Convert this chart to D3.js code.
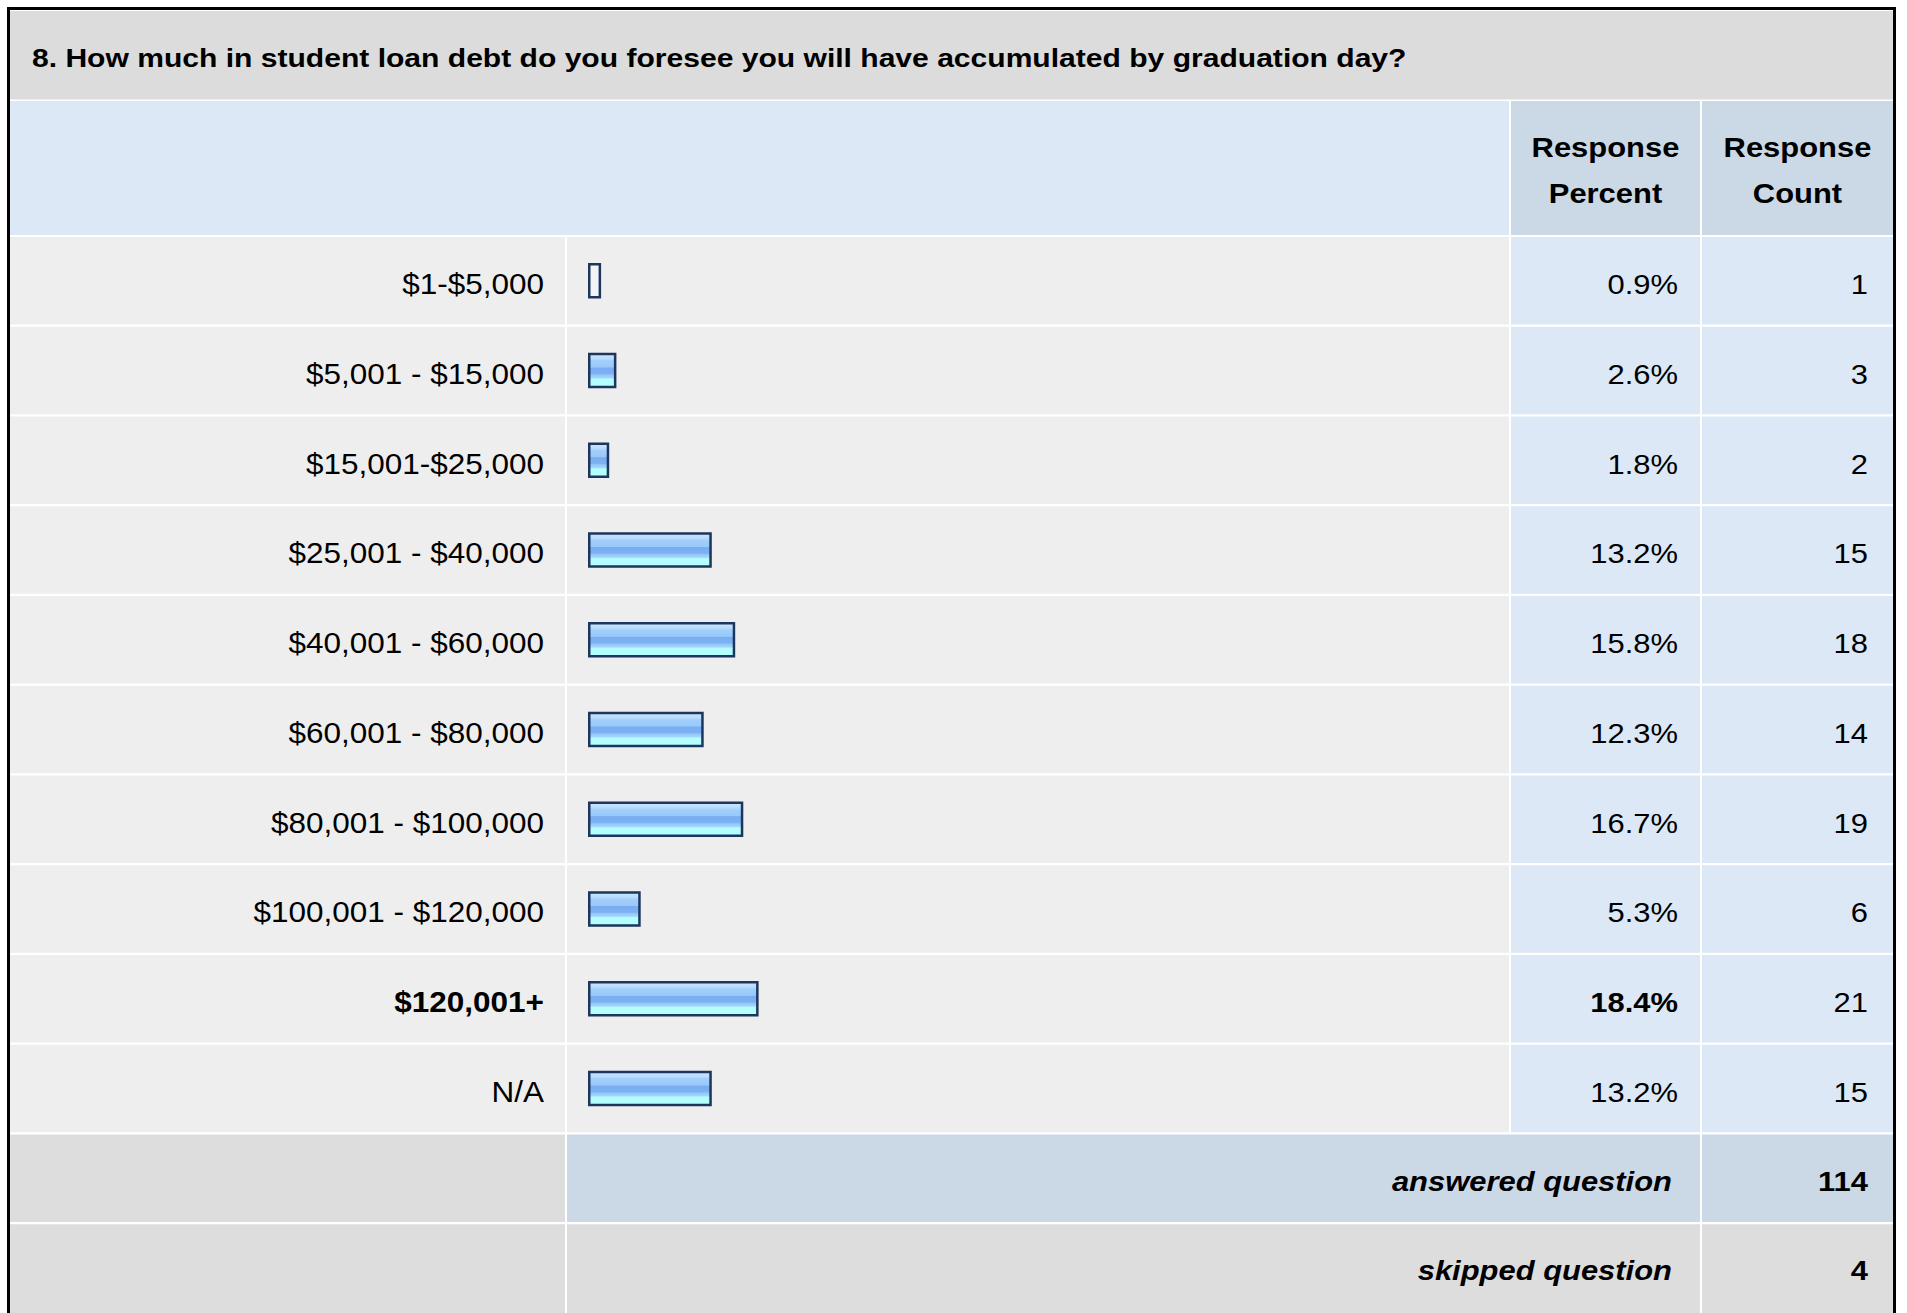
<!DOCTYPE html>
<html>
<head>
<meta charset="utf-8">
<script src="https://cdn.jsdelivr.net/npm/d3@7"></script>
<style>
  body { margin: 0; background: #fff; }
  svg { display: block; font-family: "Liberation Sans", Arial, sans-serif; }
</style>
</head>
<body>
<div id="chart"></div>
<script>
const questionTitle = "8. How much in student loan debt do you foresee you will have accumulated by graduation day?";
const headerLines = [["Response", "Percent"], ["Response", "Count"]];
const categories = ["$1-$5,000", "$5,001 - $15,000", "$15,001-$25,000", "$25,001 - $40,000", "$40,001 - $60,000",
    "$60,001 - $80,000", "$80,001 - $100,000", "$100,001 - $120,000", "$120,001+", "N/A"];
const percents = [0.9, 2.6, 1.8, 13.2, 15.8, 12.3, 16.7, 5.3, 18.4, 13.2];
const counts = [1, 3, 2, 15, 18, 14, 19, 6, 21, 15];
const footerLabels = ["answered question", "skipped question"];
const footerCounts = [114, 4];

const width = 1907, height = 1313;
const SX = 1.085;          // glyphs in the capture are a little wider than tall
const fontSize = 28.5;
const labelSize = 29;
const rowStep = 89.75, gap = 2.2, firstRowTop = 237;
const cols = { label: [10, 565], bar: [567, 1509], pct: [1511, 1700], count: [1702, 1893] };

const topIndex = d3.maxIndex(percents);

const svg = d3.select("#chart").append("svg")
    .attr("width", width)
    .attr("height", height);

const defs = svg.append("defs");
const grad = defs.append("linearGradient")
    .attr("id", "barGrad")
    .attr("x1", 0).attr("y1", 0).attr("x2", 0).attr("y2", 1);
[[0, "#cde6fe"], [0.16, "#b6dafd"], [0.2, "#a2cffc"], [0.4, "#99c8fa"], [0.42, "#78adf2"],
 [0.6, "#7cb1f3"], [0.63, "#93c4f8"], [0.72, "#a4d6fa"], [0.76, "#b3fdff"], [1, "#b3ffff"]]
    .forEach(([o, c]) => grad.append("stop").attr("offset", o).attr("stop-color", c));

// row bands (10 answer rows + 2 footer rows)
const nRows = categories.length + footerLabels.length;
const y = d3.scaleBand()
    .domain(d3.range(nRows))
    .range([firstRowTop, firstRowTop + nRows * rowStep - gap])
    .paddingInner(gap / rowStep)
    .paddingOuter(0);

const x = d3.scaleLinear().domain([0, 100]).range([0, 900]);

function stretch(sel, sx = SX) {
    sel.each(function () {
        const len = this.getComputedTextLength();
        d3.select(this).attr("textLength", len * sx).attr("lengthAdjust", "spacingAndGlyphs");
    });
}

const bg = svg.append("g");
function cell(col, top, h, fill) {
    bg.append("rect")
        .attr("x", col[0]).attr("y", top)
        .attr("width", col[1] - col[0]).attr("height", h)
        .attr("fill", fill);
}

// title row
cell([10, 1893], 11, 88.5, "#dcdcdc");
svg.append("text")
    .attr("x", 32).attr("y", 67)
    .attr("font-size", 26).attr("font-weight", "bold").attr("fill", "#000")
    .text(questionTitle)
    .call(stretch, 1.156);

// header row
const headTop = 101, headH = 134;
cell([cols.label[0], cols.bar[1]], headTop, headH, "#dce8f5");
cell(cols.pct, headTop, headH, "#cbd8e6");
cell(cols.count, headTop, headH, "#cbd8e6");
[cols.pct, cols.count].forEach((col, i) => {
    headerLines[i].forEach((line, j) => {
        svg.append("text")
            .attr("x", (col[0] + col[1]) / 2).attr("y", 157 + j * 46)
            .attr("text-anchor", "middle")
            .attr("font-size", fontSize).attr("font-weight", "bold").attr("fill", "#000")
            .text(line)
            .call(stretch);
    });
});

// answer rows
const rowData = categories.map((c, i) => ({ label: c, pct: percents[i], count: counts[i], i }));
rowData.forEach(d => {
    const top = y(d.i), h = y.bandwidth();
    cell(cols.label, top, h, "#eeeeee");
    cell(cols.bar, top, h, "#eeeeee");
    cell(cols.pct, top, h, "#dce8f5");
    cell(cols.count, top, h, "#dce8f5");
});

const rows = svg.append("g").selectAll("g")
    .data(rowData)
    .join("g");

rows.append("rect")
    .attr("x", cols.bar[0] + 21 + 1.25)
    .attr("y", d => y(d.i) + 26 + 1.25)
    .attr("width", d => x(d.pct) + 5 - 2.5)
    .attr("height", 35.5 - 2.5)
    .attr("fill", d => d.pct < 1 ? "#f2f4f7" : "url(#barGrad)")
    .attr("stroke", "#1c365e")
    .attr("stroke-width", 2.5);

rows.append("text")
    .attr("x", 544).attr("y", d => y(d.i) + 57)
    .attr("text-anchor", "end")
    .attr("font-size", labelSize)
    .attr("font-weight", d => d.i === topIndex ? "bold" : "normal")
    .text(d => d.label)
    .call(stretch);

rows.append("text")
    .attr("x", 1678).attr("y", d => y(d.i) + 57)
    .attr("text-anchor", "end")
    .attr("font-size", fontSize)
    .attr("font-weight", d => d.i === topIndex ? "bold" : "normal")
    .text(d => d.pct.toFixed(1) + "%")
    .call(stretch);

rows.append("text")
    .attr("x", 1868).attr("y", d => y(d.i) + 57)
    .attr("text-anchor", "end")
    .attr("font-size", fontSize)
    .text(d => d.count)
    .call(stretch);

// footer rows
footerLabels.forEach((lab, k) => {
    const i = categories.length + k;
    const top = y(i), h = k === footerLabels.length - 1 ? height - top : y.bandwidth();
    cell(cols.label, top, h, "#dddddd");
    cell([cols.bar[0], cols.pct[1]], top, h, k === 0 ? "#cbd8e6" : "#dddddd");
    cell(cols.count, top, h, k === 0 ? "#cbd8e6" : "#dddddd");
    svg.append("text")
        .attr("x", 1672).attr("y", top + 56)
        .attr("text-anchor", "end")
        .attr("font-size", fontSize).attr("font-weight", "bold").attr("font-style", "italic")
        .text(lab)
        .call(stretch);
    svg.append("text")
        .attr("x", 1868).attr("y", top + 56)
        .attr("text-anchor", "end")
        .attr("font-size", fontSize).attr("font-weight", "bold")
        .text(footerCounts[k])
        .call(stretch);
});

// outer frame
svg.append("path")
    .attr("d", "M8.5,1313 V8.5 H1894.5 V1313")
    .attr("fill", "none")
    .attr("stroke", "#000")
    .attr("stroke-width", 3);
</script>
</body>
</html>
